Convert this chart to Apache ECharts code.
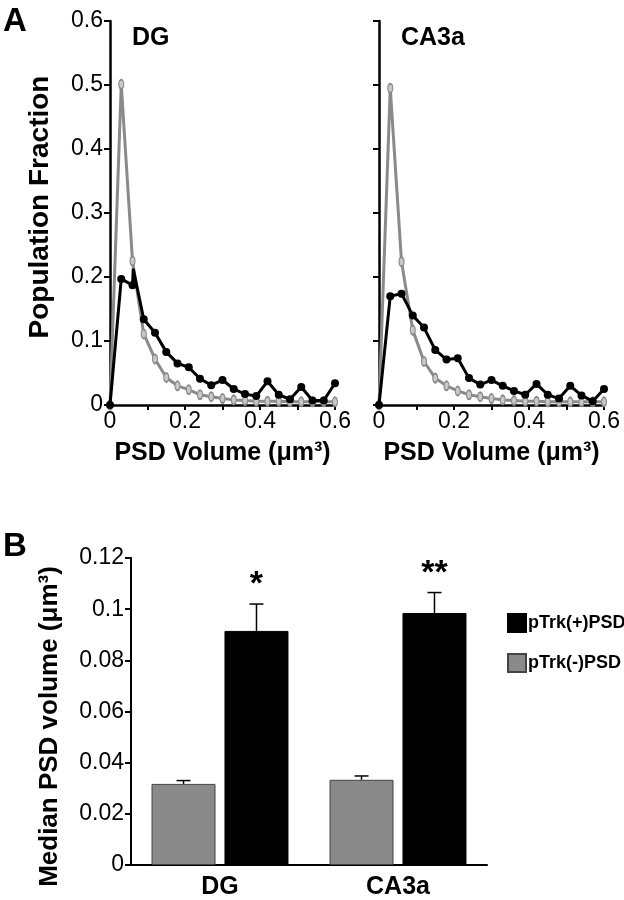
<!DOCTYPE html>
<html><head><meta charset="utf-8">
<script src="https://cdn.jsdelivr.net/npm/echarts@6/dist/echarts.min.js"></script>
<style>html,body{margin:0;padding:0;background:#fff}#c{width:624px;height:900px}</style>
</head><body><div id="c"></div>
<script>
// ---- data ----
const volumeBins = [0,0.03,0.06,0.09,0.12,0.15,0.18,0.21,0.24,0.27,0.30,0.33,0.36,0.39,0.42,0.45,0.48,0.51,0.54,0.57,0.60];
const dgPos = [0,0.197,0.187,0.134,0.113,0.083,0.065,0.059,0.041,0.031,0.039,0.025,0.017,0.014,0.037,0.016,0.009,0.028,0.007,0.007,0.034];
const dgPosSpike = [0.062, 0.213];
const dgNeg = [0,0.501,0.225,0.111,0.072,0.043,0.030,0.024,0.016,0.013,0.010,0.008,0.007,0.006,0.006,0.006,0.005,0.005,0.005,0.005,0.005];
const caPos = [0,0.170,0.174,0.140,0.121,0.086,0.071,0.073,0.042,0.032,0.039,0.030,0.022,0.016,0.033,0.016,0.010,0.030,0.015,0.006,0.025];
const caNeg = [0,0.495,0.224,0.117,0.068,0.042,0.030,0.022,0.016,0.013,0.010,0.008,0.007,0.006,0.006,0.005,0.005,0.005,0.005,0.005,0.005];
const regions = ['DG','CA3a'];
const medianPos = [0.0915, 0.0985];
const errPos = [0.0105, 0.0080];
const medianNeg = [0.0317, 0.0333];
const errNeg = [0.0013, 0.0015];
const significance = ['*','**'];
const posName = 'pTrk(+)PSD';
const negName = 'pTrk(-)PSD';

// ---- styling ----
const FONT = 'Liberation Sans, Arial, Helvetica, sans-serif';
const GRAY = '#8a8a8a';
const BAR_W = 64;
const BAR_GAP = 0.14;
const zip = (xs, ys) => xs.map((x, i) => [x, ys[i]]);

const chart = echarts.init(document.getElementById('c'), null, {renderer: 'canvas'});

function volAxis(grid) {
  return {
    type: 'value', gridIndex: grid, min: 0, max: 0.6, interval: 0.1,
    axisLine: {show: true, onZero: false, lineStyle: {color: '#000', width: 2.5}},
    axisTick: {show: true, length: 5, lineStyle: {color: '#000', width: 2}},
    splitLine: {show: false},
    axisLabel: {
      color: '#000', fontSize: 23, fontFamily: FONT, margin: 5,
      formatter: v => (Math.round(v * 10) % 2 === 0 ? (v === 0 ? '0' : v.toFixed(1)) : '')
    },
    name: 'PSD Volume (\u03bcm\u00b3)', nameLocation: 'middle', nameGap: 36,
    nameTextStyle: {color: '#000', fontSize: 25, fontWeight: 'bold', fontFamily: FONT}
  };
}
function fracAxis(grid, withLabels) {
  const a = {
    type: 'value', gridIndex: grid, min: 0, max: 0.6, interval: 0.1,
    axisLine: {show: true, onZero: false, lineStyle: {color: '#000', width: 2.5}},
    axisTick: {show: true, length: 6, lineStyle: {color: '#000', width: 2}},
    splitLine: {show: false},
    axisLabel: {
      show: withLabels, color: '#000', fontSize: 23, fontFamily: FONT, margin: 7,
      formatter: v => (v === 0 ? '0' : v.toFixed(1))
    }
  };
  if (withLabels) {
    a.name = 'Population Fraction';
    a.nameLocation = 'middle';
    a.nameGap = 56;
    a.nameTextStyle = {color: '#000', fontSize: 28, fontWeight: 'bold', fontFamily: FONT, padding: [0, 0, 0, 12]};
  }
  return a;
}
function posLine(grid, pts) {
  return {
    type: 'line', xAxisIndex: grid, yAxisIndex: grid, data: pts,
    symbol: 'circle', symbolSize: 8, z: 3,
    lineStyle: {color: '#000', width: 3},
    itemStyle: {color: '#000'}
  };
}
function negLine(grid, ys) {
  return {
    type: 'line', xAxisIndex: grid, yAxisIndex: grid, data: zip(volumeBins, ys),
    symbol: 'circle', symbolSize: [5, 9], z: 2,
    lineStyle: {color: GRAY, width: 3},
    itemStyle: {color: '#c8c8c8', borderColor: GRAY, borderWidth: 1.5}
  };
}
function errRender(sign, withStar) {
  return function (params, api) {
    const i = api.value(0);
    const m = api.value(1);
    const e = api.value(2);
    const base = api.coord([i, m]);
    const top = api.coord([i, m + e]);
    const off = sign * (BAR_W + BAR_W * BAR_GAP) / 2;
    const x = base[0] + off;
    const children = [
      {type: 'line', shape: {x1: x, y1: base[1], x2: x, y2: top[1]}, style: {stroke: '#000', lineWidth: 1.5}},
      {type: 'line', shape: {x1: x - 7, y1: top[1], x2: x + 7, y2: top[1]}, style: {stroke: '#000', lineWidth: 1.5}}
    ];
    if (withStar) {
      children.push({type: 'text', x: x, y: top[1] - 2,
        style: {text: significance[params.dataIndex], fill: '#000', font: 'bold 34px ' + FONT, align: 'center', verticalAlign: 'bottom'}});
    }
    return {type: 'group', children};
  };
}

const dgPosData = zip(volumeBins, dgPos);
dgPosData.splice(3, 0, {value: dgPosSpike, symbol: 'none'});

const option = {
  animation: false,
  backgroundColor: '#fff',
  textStyle: {fontFamily: FONT},
  title: [
    {text: 'A', left: -2, top: 0, textStyle: {fontSize: 33, fontWeight: 'bold', color: '#000', fontFamily: FONT}},
    {text: 'B', left: -2, top: 525, textStyle: {fontSize: 33, fontWeight: 'bold', color: '#000', fontFamily: FONT}},
    {text: 'DG', left: 127, top: 21, textStyle: {fontSize: 25, fontWeight: 'bold', color: '#000', fontFamily: FONT}},
    {text: 'CA3a', left: 396, top: 21, textStyle: {fontSize: 25, fontWeight: 'bold', color: '#000', fontFamily: FONT}}
  ],
  grid: [
    {left: 110, top: 21, width: 225, height: 384},
    {left: 379, top: 21, width: 225, height: 384},
    {left: 131, top: 558, width: 356, height: 308}
  ],
  legend: {
    data: [posName, negName], orient: 'vertical', left: 502, top: 608,
    itemWidth: 18, itemHeight: 18, itemGap: 20, icon: 'rect',
    textStyle: {color: '#000', fontSize: 18, fontWeight: 'bold', fontFamily: FONT, padding: [0, 0, 0, -3]}
  },
  xAxis: [
    volAxis(0), volAxis(1),
    {
      type: 'category', gridIndex: 2, data: regions,
      axisLine: {show: true, lineStyle: {color: '#000', width: 2}},
      axisTick: {show: false},
      axisLabel: {color: '#000', fontSize: 25, fontWeight: 'bold', fontFamily: FONT, margin: 10}
    }
  ],
  yAxis: [
    fracAxis(0, true), fracAxis(1, false),
    {
      type: 'value', gridIndex: 2, min: 0, max: 0.12, interval: 0.02,
      axisLine: {show: true, lineStyle: {color: '#000', width: 2}},
      axisTick: {show: true, length: 6, lineStyle: {color: '#000', width: 2}},
      splitLine: {show: false},
      axisLabel: {color: '#000', fontSize: 23, fontFamily: FONT, margin: 7},
      name: 'Median PSD volume (\u03bcm\u00b3)', nameLocation: 'middle', nameGap: 68,
      nameTextStyle: {color: '#000', fontSize: 26, fontWeight: 'bold', fontFamily: FONT, padding: [0, 30, 0, 0]}
    }
  ],
  series: [
    negLine(0, dgNeg), posLine(0, dgPosData),
    negLine(1, caNeg), posLine(1, zip(volumeBins, caPos)),
    {
      name: negName, type: 'bar', xAxisIndex: 2, yAxisIndex: 2, data: medianNeg,
      barWidth: BAR_W, barGap: (BAR_GAP * 100) + '%',
      itemStyle: {color: GRAY, borderColor: '#444', borderWidth: 1}
    },
    {
      name: posName, type: 'bar', xAxisIndex: 2, yAxisIndex: 2, data: medianPos,
      barWidth: BAR_W, barGap: (BAR_GAP * 100) + '%',
      itemStyle: {color: '#000', borderColor: '#000', borderWidth: 1}
    },
    {
      type: 'custom', xAxisIndex: 2, yAxisIndex: 2, z: 5,
      data: regions.map((r, i) => [i, medianNeg[i], errNeg[i]]),
      renderItem: errRender(-1, false)
    },
    {
      type: 'custom', xAxisIndex: 2, yAxisIndex: 2, z: 5,
      data: regions.map((r, i) => [i, medianPos[i], errPos[i]]),
      renderItem: errRender(1, true)
    }
  ]
};
chart.setOption(option);
</script>
</body></html>
